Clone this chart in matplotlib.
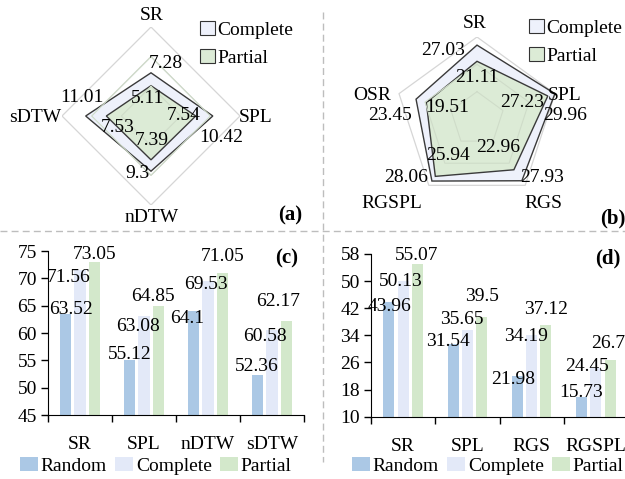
import numpy as np
import matplotlib
matplotlib.use("Agg")
import matplotlib.pyplot as plt
from matplotlib.patches import Patch
from matplotlib.lines import Line2D

plt.rcParams['font.family'] = ['Liberation Serif', 'DejaVu Serif']
plt.rcParams['font.size'] = 14

# (a) radar
radar_a_names = ["SR", "SPL", "nDTW", "sDTW"]
radar_a_complete = [7.28, 10.42, 9.3, 11.01]
radar_a_partial = [5.11, 7.54, 7.39, 7.53]

# (b) radar
radar_b_names = ["SR", "SPL", "RGS", "RGSPL", "OSR"]
radar_b_complete = [27.03, 29.96, 27.93, 28.06, 23.45]
radar_b_partial = [21.11, 27.23, 22.96, 25.94, 19.51]

# (c) bars
bar_c_groups = ["SR", "SPL", "nDTW", "sDTW"]
bar_c_random = [63.52, 55.12, 64.1, 52.36]
bar_c_complete = [71.56, 63.08, 69.53, 60.58]
bar_c_partial = [73.05, 64.85, 71.05, 62.17]

# (d) bars
bar_d_groups = ["SR", "SPL", "RGS", "RGSPL"]
bar_d_random = [43.96, 31.54, 21.98, 15.73]
bar_d_complete = [50.13, 35.65, 34.19, 24.45]
bar_d_partial = [55.07, 39.5, 37.12, 26.7]

series_names = ["Random", "Complete", "Partial"]

C_RANDOM = "#abc8e5"
C_COMPLETE = "#e3e9f8"
C_PARTIAL = "#d3e8cb"
R_COMPLETE = "#eef1fb"
R_PARTIAL = "#dcebd6"

W, H = 625, 479
fig = plt.figure(figsize=(W / 100, H / 100), dpi=100)


def box(x0, y0, x1, y1):
    # pixel box (top-left origin) -> figure fraction rect
    return [x0 / W, 1 - y1 / H, (x1 - x0) / W, (y1 - y0) / H]


def radar(ax, names, comp, part, rmax, levels, name_off, comp_off, part_off):
    n = len(names)
    ang = np.pi / 2 - 2 * np.pi * np.arange(n) / n
    ca, sa = np.cos(ang), np.sin(ang)
    for lv in levels:
        ax.plot(np.append(lv * ca, lv * ca[0]), np.append(lv * sa, lv * sa[0]),
                color="#d6d6d6", lw=0.9, zorder=0.5)
    for vals, fc in ((comp, R_COMPLETE), (part, R_PARTIAL)):
        v = np.array(vals)
        ax.fill(v * ca, v * sa, facecolor=fc, edgecolor="#3a3a3a", lw=1.0)
    for lv in levels[:-1]:
        ax.plot(np.append(lv * ca, lv * ca[0]), np.append(lv * sa, lv * sa[0]),
                color="#cfdcc9", lw=0.8, zorder=1.5)
    for vals, offs in ((comp, comp_off), (part, part_off)):
        for c, s, v, o in zip(ca, sa, vals, offs):
            ax.annotate(f"{v:g}", (v * c, v * s), xytext=o, textcoords="offset pixels",
                        ha="center", va="center", zorder=4)
    for c, s, nm, o in zip(ca, sa, names, name_off):
        ax.annotate(nm, (rmax * c, rmax * s), xytext=o, textcoords="offset pixels",
                    ha="center", va="center")
    ax.set_xlim(-rmax, rmax)
    ax.set_ylim(-rmax, rmax)
    ax.axis("off")
    ax.legend(handles=[Patch(facecolor=R_COMPLETE, edgecolor="#333333", lw=0.8, label="Complete"),
                       Patch(facecolor=R_PARTIAL, edgecolor="#333333", lw=0.8, label="Partial")],
              frameon=False, handlelength=0.75, handleheight=0.75, handletextpad=0.15,
              borderpad=0, borderaxespad=0, loc="upper left")
    return ax


def bars(ax, groups, series, ylim, yticks, offs):
    x = np.arange(len(groups))
    for k, (vals, col) in enumerate(zip(series, (C_RANDOM, C_COMPLETE, C_PARTIAL))):
        xs = x + (k - 1) * 0.223
        ax.bar(xs, vals, width=0.172, color=col, label=series_names[k])
        for xi, v, o in zip(xs, vals, offs[k]):
            ax.annotate(f"{v:g}", (xi, v), xytext=o, textcoords="offset pixels",
                        ha="center", va="center", annotation_clip=False)
    ax.set_xlim(-0.5, len(groups) - 0.5)
    ax.set_ylim(*ylim)
    ax.set_yticks(yticks)
    ax.set_xticks(np.arange(len(groups) + 1) - 0.5)
    ax.set_xticklabels([])
    ax.set_xticks(x, minor=True)
    ax.set_xticklabels(groups, minor=True)
    ax.tick_params(axis="x", which="minor", length=0, pad=15)
    ax.tick_params(axis="both", which="major", direction="out", length=5, width=1, pad=3)
    for sp in ("top", "right"):
        ax.spines[sp].set_visible(False)


# ---- (a)
ax_a = fig.add_axes(box(62, 27, 240, 205))
radar(ax_a, radar_a_names, radar_a_complete, radar_a_partial, 15, [5, 10, 15],
      name_off=[(1, 12), (16, -1), (1, -12), (-27, -1)],
      comp_off=[(15, 9.5), (8, -22), (-14, -2), (-4, 19)],
      part_off=[(-3.5, -13), (-12.5, 1), (0.7, 19), (11, -12)])
ax_a.get_legend().set_bbox_to_anchor((200 / W, 1 - 21 / H), transform=fig.transFigure)

# ---- (b)
ax_b = fig.add_axes(box(395, 37, 559, 201))
radar(ax_b, radar_b_names, radar_b_complete, radar_b_partial, 30, [10, 20, 30],
      name_off=[(-2, 13), (10, -2.3), (18, -18), (-37, -18), (-27, -2.3)],
      comp_off=[(-34, -5), (10, -22), (20, 3), (-26, 3.5), (-26, -16.5)],
      part_off=[(0, -16.7), (-26, -6.5), (-16, 22), (12.7, 21), (20.4, -5)])
leg_b = ax_b.get_legend()
leg_b.set_bbox_to_anchor((529 / W, 1 - 19 / H), transform=fig.transFigure)
leg_b._legend_box.sep = 0

# ---- (c)
ax_c = fig.add_axes(box(48, 251, 304, 415))
bars(ax_c, bar_c_groups, (bar_c_random, bar_c_complete, bar_c_partial),
     (45, 75), np.arange(45, 76, 5),
     offs=[[(5, 4.6), (0.5, 5.6), (-6.5, -7.6), (-0.8, 8)],
           [(-11, -7.2), (-5.8, -10.7), (-1.8, -4), (-7, -6.3)],
           [(0.5, 7.4), (-5.2, 9.6), (0, 15.7), (-7.7, 19.3)]])

# ---- (d)
ax_d = fig.add_axes(box(371, 254, 628, 416.7))
bars(ax_d, bar_d_groups, (bar_d_random, bar_d_complete, bar_d_partial),
     (10, 58), np.arange(10, 59, 8),
     offs=[[(1, -5.4), (-5, 2), (-4.5, -3.2), (0, 5)],
           [(-2.5, -1), (-6, 10.4), (-6, -2), (-8.5, 1)],
           [(-0.5, 8.9), (0, 20), (0, 14.8), (-2.5, 16.7)]])

for ax, x0 in ((ax_c, 20), (ax_d, 352)):
    h, l = ax.get_legend_handles_labels()
    fig.legend(h, l, ncol=3, frameon=False, loc="upper left",
               bbox_to_anchor=(x0 / W, 1 - 457 / H), borderpad=0, borderaxespad=0,
               handlelength=0.9, handleheight=0.75, handletextpad=0.15, columnspacing=0.45)

# panel tags
for tag, (px, py) in zip(["(a)", "(b)", "(c)", "(d)"],
                         [(290, 215), (613, 218), (287, 258), (608, 258)]):
    fig.text(px / W, 1 - py / H, tag, fontsize=15, fontweight="bold", ha="center", va="center")

# dashed separators
fig.add_artist(Line2D([0, 1], [1 - 231 / H] * 2, transform=fig.transFigure,
                      color="#bdbdbd", lw=1, linestyle=(0, (5, 3))))
fig.add_artist(Line2D([323 / W] * 2, [1 - 12 / H, 1 - 462 / H], transform=fig.transFigure,
                      color="#bdbdbd", lw=1, linestyle=(0, (5, 3))))

fig.savefig("out.png", dpi=100)
